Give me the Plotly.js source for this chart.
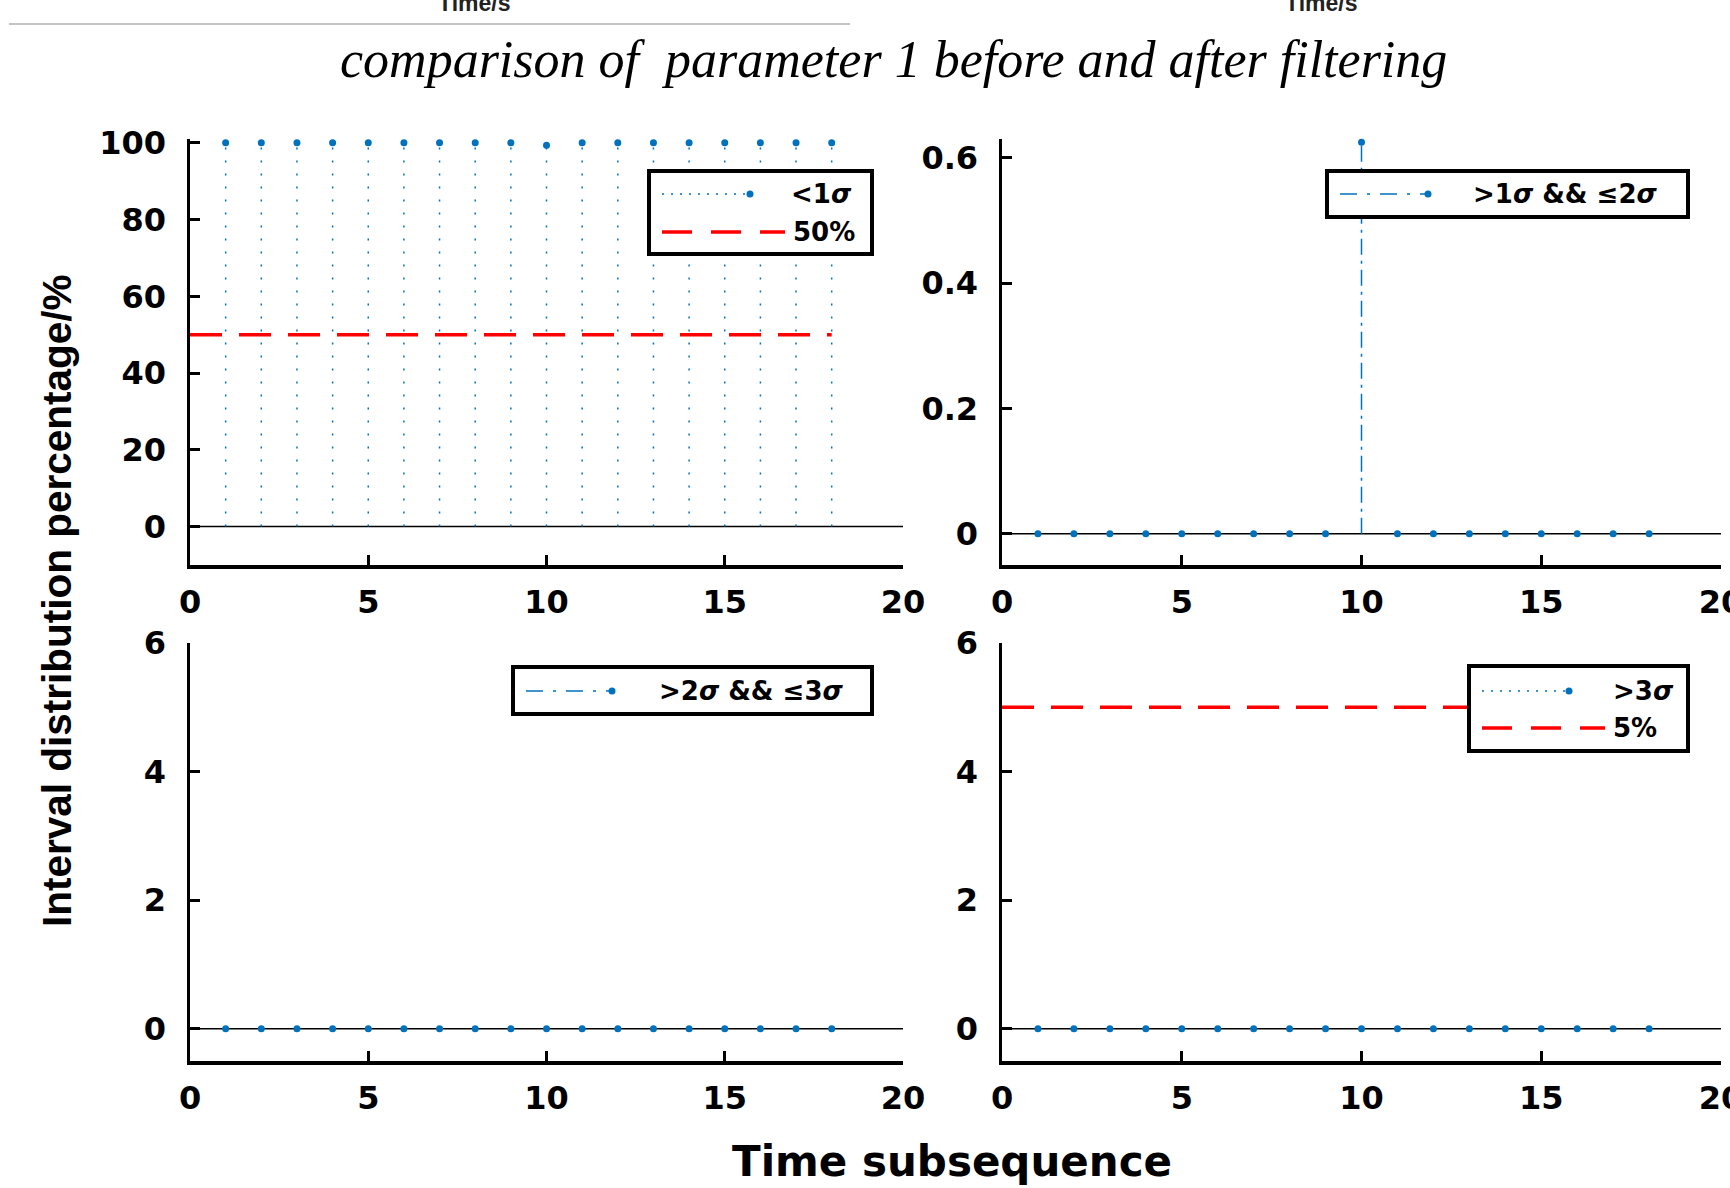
<!DOCTYPE html>
<html>
<head>
<meta charset="utf-8">
<script src="https://cdn.plot.ly/plotly-3.0.1.min.js"></script>
<style>html,body{margin:0;padding:0;background:#fff;}#chart{width:1730px;height:1188px;}</style>
</head>
<body>
<div id="chart"></div>
<script>
// ---------- data ----------
const timeSubsequence = [1,2,3,4,5,6,7,8,9,10,11,12,13,14,15,16,17,18];
const pctBelow1Sigma  = [100,100,100,100,100,100,100,100,100,99.375,100,100,100,100,100,100,100,100];
const pct1to2Sigma    = [0,0,0,0,0,0,0,0,0,0.625,0,0,0,0,0,0,0,0];
const pct2to3Sigma    = [0,0,0,0,0,0,0,0,0,0,0,0,0,0,0,0,0,0];
const pctAbove3Sigma  = [0,0,0,0,0,0,0,0,0,0,0,0,0,0,0,0,0,0];
const thresholdX      = [0, 18];
const threshold50     = [50, 50];
const threshold5      = [5, 5];
const xTicks = [0,5,10,15,20];
const yTicks1 = [0,20,40,60,80,100];
const yTicks2 = [0,0.2,0.4,0.6];
const yTicks3 = [0,2,4,6];

// ---------- helpers ----------
const W = 1730, H = 1188;
const px = v => v / W;
const py = v => 1 - v / H;
const BLUE = '#0072BD';

function stems(xs, ys) {
  const sx = [], sy = [];
  xs.forEach((x, i) => { sx.push(x, x, null); sy.push(0, ys[i], null); });
  return {x: sx, y: sy};
}

const traces = [];
function addStem(xs, ys, dash, xa, ya) {
  const s = stems(xs, ys);
  traces.push({x: s.x, y: s.y, xaxis: xa, yaxis: ya, mode: 'lines', type: 'scatter',
    line: {color: BLUE, width: 1.5, dash: dash}, hoverinfo: 'skip', showlegend: false, cliponaxis: false});
  traces.push({x: xs, y: ys, xaxis: xa, yaxis: ya, mode: 'markers', type: 'scatter',
    marker: {color: BLUE, size: 7}, showlegend: false, cliponaxis: false});
}
function addThreshold(ys, xa, ya) {
  traces.push({x: thresholdX, y: ys, xaxis: xa, yaxis: ya, mode: 'lines', type: 'scatter',
    line: {color: '#FF0000', width: 3.5, dash: '32px,17px'}, showlegend: false});
}

const DOT = '2px,11px';
const DASHDOT = '16px,6px,3px,6px';
addThreshold(threshold50, 'x', 'y');
addStem(timeSubsequence, pctBelow1Sigma, DOT, 'x', 'y');
addStem(timeSubsequence, pct1to2Sigma, DASHDOT, 'x2', 'y2');
addStem(timeSubsequence, pct2to3Sigma, DASHDOT, 'x3', 'y3');
addThreshold(threshold5, 'x4', 'y4');
addStem(timeSubsequence, pctAbove3Sigma, DOT, 'x4', 'y4');

// ---------- axes ----------
const tickFont = {family: 'DejaVu Sans', size: 32, color: '#000', weight: 'bold'};
function xax(domain, anchor) {
  return {domain: domain, anchor: anchor, range: [0, 20], tickvals: xTicks, ticktext: xTicks.map(String),
    ticks: 'inside', ticklen: 10, tickwidth: 3, tickcolor: '#000', showline: true, linewidth: 3.5,
    linecolor: '#000', showgrid: false, zeroline: false, tickfont: tickFont, ticklabelstandoff: 6,
    ticklabeloverflow: 'allow', fixedrange: true};
}
function yax(domain, anchor, range, vals) {
  return {domain: domain, anchor: anchor, range: range, tickvals: vals, ticktext: vals.map(String),
    ticks: 'inside', ticklen: 10, tickwidth: 3, tickcolor: '#000', showline: true, linewidth: 3.5,
    linecolor: '#000', showgrid: false, zeroline: false, tickfont: tickFont, ticklabelstandoff: 14,
    ticklabeloverflow: 'allow', fixedrange: true};
}
const xdL = [px(190), px(903)], xdR = [px(1002), px(1721)];
const ydT = [py(565), py(139)], ydB = [py(1061), py(643)];

// ---------- shapes (baselines + legends) ----------
const shapes = [];
[['x','y'],['x2','y2'],['x3','y3'],['x4','y4']].forEach(([xa, ya]) => {
  shapes.push({type: 'line', xref: xa, yref: ya, x0: 0, x1: 20, y0: 0, y1: 0, layer: 'below',
    line: {color: '#000', width: 1.5}});
});
// top remnant separator
shapes.push({type: 'line', xref: 'paper', yref: 'paper', x0: px(9), x1: px(850), y0: py(24), y1: py(24),
  line: {color: '#c4c4c4', width: 2}});

const annotations = [];
function legendBox(x0, y0, x1, y1) {
  shapes.push({type: 'rect', xref: 'paper', yref: 'paper', x0: px(x0), x1: px(x1), y0: py(y1), y1: py(y0),
    fillcolor: '#fff', line: {color: '#000', width: 4}, layer: 'above'});
}
function legendLine(x0, x1, y, color, width, dash) {
  shapes.push({type: 'line', xref: 'paper', yref: 'paper', x0: px(x0), x1: px(x1), y0: py(y), y1: py(y),
    line: {color: color, width: width, dash: dash}, layer: 'above'});
}
function legendDot(x, y) {
  const r = 3.5;
  shapes.push({type: 'circle', xref: 'paper', yref: 'paper', x0: px(x - r), x1: px(x + r), y0: py(y + r), y1: py(y - r),
    fillcolor: BLUE, line: {color: BLUE, width: 0}, layer: 'above'});
}
const legFont = {family: 'DejaVu Sans', size: 26, color: '#000', weight: 'bold'};
function legendText(x, y, text) {
  annotations.push({xref: 'paper', yref: 'paper', x: px(x), y: py(y), xanchor: 'left', yanchor: 'middle',
    text: text, showarrow: false, font: legFont});
}

// legend 1
legendBox(649, 171, 872, 254);
legendLine(662, 748, 194, BLUE, 1.5, '2px,7px'); legendDot(750, 194);
legendText(789, 194, '&lt;1<i>σ</i>');
legendLine(662, 785, 232, '#FF0000', 3.5, '30px,19px');
legendText(791, 232, '50%');
// legend 2
legendBox(1327, 171, 1688, 217);
legendLine(1340, 1426, 194, BLUE, 1.5, '17px,10px,3px,10px'); legendDot(1428, 194);
legendText(1471, 194, '&gt;1<i>σ</i> &amp;&amp; ≤2<i>σ</i>');
// legend 3
legendBox(513, 667, 872, 714);
legendLine(526, 610, 691, BLUE, 1.5, '17px,10px,3px,10px'); legendDot(612, 691);
legendText(657, 691, '&gt;2<i>σ</i> &amp;&amp; ≤3<i>σ</i>');
// legend 4
legendBox(1469, 666, 1688, 751);
legendLine(1482, 1567, 691, BLUE, 1.5, '2px,7px'); legendDot(1569, 691);
legendText(1611, 691, '&gt;3<i>σ</i>');
legendLine(1482, 1605, 728, '#FF0000', 3.5, '30px,19px');
legendText(1611, 728, '5%');

// titles
annotations.push({xref: 'paper', yref: 'paper', x: px(893), y: py(60), xanchor: 'center', yanchor: 'middle',
  text: 'comparison of  parameter 1 before and after filtering', showarrow: false,
  font: {family: 'Liberation Serif', size: 52, color: '#000', style: 'italic'}});
annotations.push({xref: 'paper', yref: 'paper', x: px(952), y: py(1161), xanchor: 'center', yanchor: 'middle',
  text: 'Time subsequence', showarrow: false,
  font: {family: 'DejaVu Sans', size: 42, color: '#000', weight: 'bold'}});
annotations.push({xref: 'paper', yref: 'paper', x: px(57), y: py(601), xanchor: 'center', yanchor: 'middle',
  text: 'Interval distribution percentage/%', textangle: -90, showarrow: false,
  font: {family: 'Liberation Sans', size: 40.5, color: '#000', weight: 'bold'}});
// remnants of previous figure at top edge (cut off in the source image as well)
[474, 1321].forEach(cx => annotations.push({xref: 'paper', yref: 'paper', x: px(cx), y: py(18),
  xanchor: 'center', yanchor: 'bottom', text: 'Time/s', showarrow: false,
  font: {family: 'Liberation Sans', size: 23, color: '#222', weight: 'bold'}}));

const layout = {
  width: W, height: H, margin: {l: 0, r: 0, t: 0, b: 0},
  paper_bgcolor: '#fff', plot_bgcolor: '#fff', showlegend: false,
  xaxis: xax(xdL, 'y'), yaxis: yax(ydT, 'x', [-10, 101], yTicks1),
  xaxis2: xax(xdR, 'y2'), yaxis2: yax(ydT, 'x2', [-0.05, 0.63], yTicks2),
  xaxis3: xax(xdL, 'y3'), yaxis3: yax(ydB, 'x3', [-0.5, 6], yTicks3),
  xaxis4: xax(xdR, 'y4'), yaxis4: yax(ydB, 'x4', [-0.5, 6], yTicks3),
  shapes: shapes, annotations: annotations
};
Plotly.newPlot('chart', traces, layout, {displayModeBar: false, staticPlot: true});
</script>
</body>
</html>
